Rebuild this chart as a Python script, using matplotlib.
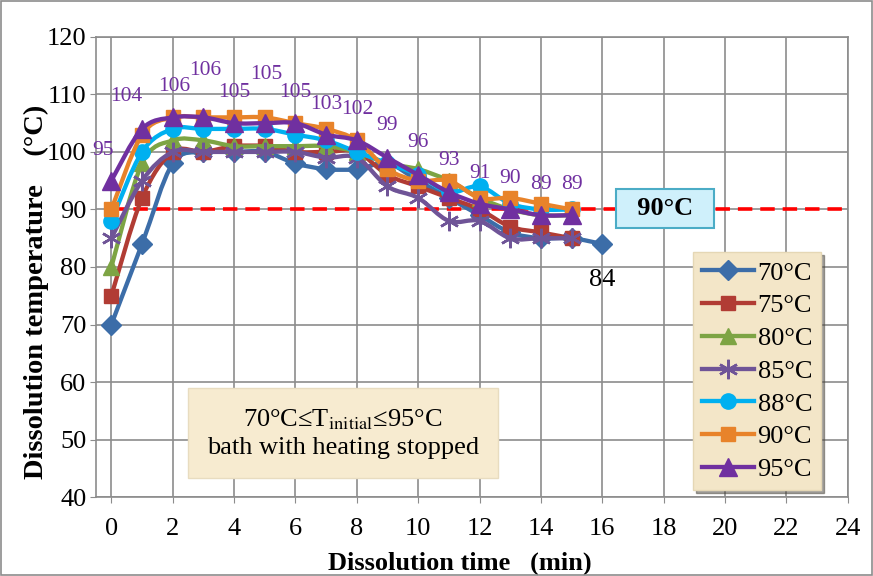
import matplotlib
matplotlib.use("Agg")
import matplotlib.pyplot as plt
import numpy as np
from matplotlib.path import Path
from matplotlib.patches import PathPatch, Rectangle
from matplotlib.lines import Line2D

plt.rcParams['font.family'] = ['Liberation Serif', 'DejaVu Serif']
plt.rcParams['mathtext.fontset'] = 'stix'

time_min = list(range(0, 16))
t70 = [70, 84, 98, 100, 100, 100, 98, 97, 97, 98, 95, 92, 89, 86, 85, 85, 84]
t75 = [75, 92, 100, 100, 101, 101, 100, 100, 100, 96, 94, 92, 90, 87, 86, 85]
t80 = [80, 98, 102, 102, 101, 101, 101, 101, 100, 98, 97, 95, 92, 90, 89, 89]
t85 = [85, 95, 100, 100, 100, 100, 100, 99, 99, 94, 92, 88, 88, 85, 85, 85]
t88 = [88, 100, 104, 104, 104, 104, 103, 102, 100, 98, 96, 93, 94, 91, 90, 90]
t90 = [90, 103, 106, 106, 106, 106, 105, 104, 102, 97, 95, 95, 92, 92, 91, 90]
t95 = [95, 104, 106, 106, 105, 105, 105, 103, 102, 99, 96, 93, 91, 90, 89, 89]

series = [
    ('70°C', t70, '#3C6DA8', 'D', 10),
    ('75°C', t75, '#B13C34', 's', 10.5),
    ('80°C', t80, '#7DA444', '^', 12),
    ('85°C', t85, '#6F5497', (6, 2, 0), 14),
    ('88°C', t88, '#00B0F0', 'o', 11),
    ('90°C', t90, '#E8832A', 's', 10.5),
    ('95°C', t95, '#7030A0', '^', 12.5),
]

# label offsets for the 95 series (points)
lab_dx = [-6, -11, 1, 1, 0, 1, 0, 0, 0, 0, 0, 0, 0, 0, 0, 0]
lab_dy = [22, 23, 22, 34, 22, 35, 22, 22, 22, 23, 23, 23, 22, 22, 22, 22]


def smooth_path(x, y):
    # Catmull-Rom style smoothing like Excel's smoothed lines
    x = np.asarray(x, float)
    y = np.asarray(y, float)
    verts = [(x[0], y[0])]
    codes = [Path.MOVETO]
    n = len(x)
    for i in range(n - 1):
        p0 = (x[max(i - 1, 0)], y[max(i - 1, 0)])
        p1 = (x[i], y[i])
        p2 = (x[i + 1], y[i + 1])
        p3 = (x[min(i + 2, n - 1)], y[min(i + 2, n - 1)])
        c1 = (p1[0] + (p2[0] - p0[0]) / 6, p1[1] + (p2[1] - p0[1]) / 6)
        c2 = (p2[0] - (p3[0] - p1[0]) / 6, p2[1] - (p3[1] - p1[1]) / 6)
        verts += [c1, c2, p2]
        codes += [Path.CURVE4] * 3
    return Path(verts, codes)


fig = plt.figure(figsize=(8.73, 5.76), dpi=100)
ax = fig.add_axes([0.11, 0.137, 0.861, 0.799])

ax.set_xlim(-0.5, 24)
ax.set_ylim(40, 120)
ax.set_xticks(range(0, 25, 2))
ax.set_yticks(range(40, 121, 10))
ax.grid(True, color='#8C8C8C', linewidth=1.2)
ax.set_axisbelow(True)
for s in ax.spines.values():
    s.set_color('#8C8C8C')
    s.set_linewidth(1.2)
ax.tick_params(labelsize=19, length=4, color='#8C8C8C', pad=3)
ax.tick_params(axis='x', pad=11)

ax.axhline(90, xmin=0.5 / 24.5, color='#FF0000', linewidth=2.6, dashes=(4, 2.2), zorder=2)

handles = []
for k, (name, vals, col, mk, ms) in enumerate(series):
    xs = list(range(len(vals)))
    patch = PathPatch(smooth_path(xs, vals), facecolor='none', edgecolor=col,
                      linewidth=3.1, zorder=3 + k, capstyle='round', joinstyle='round')
    ax.add_patch(patch)
    if mk == (6, 2, 0):
        ax.plot(xs, vals, linestyle='none', marker=mk, markersize=ms, markeredgecolor=col,
                markeredgewidth=1.8, color=col, zorder=3 + k)
    else:
        ax.plot(xs, vals, linestyle='none', marker=mk, markersize=ms, markeredgecolor=col,
                markerfacecolor=col, zorder=3 + k)
    handles.append(Line2D([], [], color=col, linewidth=3.1, marker=mk, markersize=ms,
                          markerfacecolor=col, markeredgecolor=col,
                          markeredgewidth=1.8 if mk == (6, 2, 0) else 1.0))

for i, v in enumerate(t95):
    ax.annotate(str(v), (time_min[i], v), xytext=(lab_dx[i], lab_dy[i]), textcoords='offset points',
                ha='center', va='center', fontsize=15.5, color='#7030A0', zorder=20)

ax.annotate(str(t70[-1]), (len(t70) - 1, t70[-1]), xytext=(0, -26), textcoords='offset points',
            ha='center', va='center', fontsize=19, color='black', zorder=20)

ax.text(18.05, 90.1, '  90°C  ', fontsize=19, fontweight='bold', ha='center', va='center', zorder=25,
        bbox=dict(boxstyle='square,pad=0.3', facecolor='#CFF0FB', edgecolor='#4BACC6', linewidth=1.5))

ax.text(7.54, 51.1, '70°C≤T$_\\mathrm{initial}$≤95°C\nbath with heating stopped', fontsize=19,
        ha='center', va='center', linespacing=1.3, zorder=25,
        bbox=dict(boxstyle='square,pad=0.72', facecolor='#F7EBD0', edgecolor='#E8DCC0', linewidth=1))

leg = ax.legend(handles, [s[0] for s in series], loc='lower right', bbox_to_anchor=(0.965, 0.015),
                fontsize=19, frameon=True, fancybox=False, shadow=True, handlelength=1.95,
                handletextpad=0.15, borderpad=0.35, labelspacing=0.35, borderaxespad=0)
leg.get_frame().set_facecolor('#F3E6C8')
leg.get_frame().set_edgecolor('#E5D7B5')
leg.get_frame().set_alpha(1)
leg.set_zorder(30)

ax.set_xlabel('Dissolution time   (min)', fontsize=19, fontweight='bold')
ax.set_ylabel('Dissolution temperature    (°C)', fontsize=20.5, fontweight='bold')
ax.xaxis.set_label_coords(0.484, -0.118)
ax.yaxis.set_label_coords(-0.063, 0.446)

fig.patches.append(Rectangle((0.001, 0.001), 0.998, 0.998, transform=fig.transFigure,
                             facecolor='none', edgecolor='#8C8C8C', linewidth=1.2))

fig.savefig('out.png', dpi=100)
